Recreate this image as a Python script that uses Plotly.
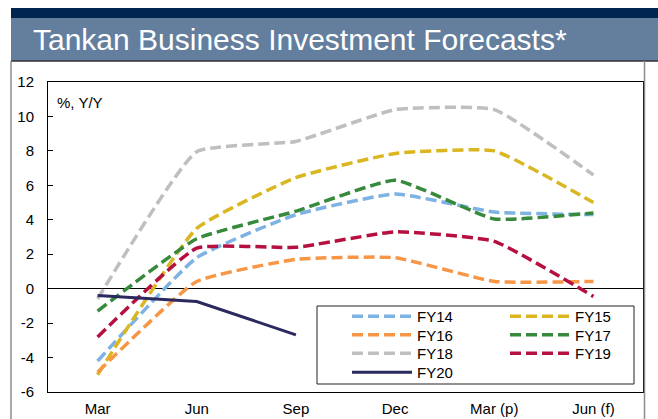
import plotly.graph_objects as go

categories = ["Mar", "Jun", "Sep", "Dec", "Mar (p)", "Jun (f)"]
fy14 = [-4.2, 1.8, 4.3, 5.5, 4.45, 4.3]
fy15 = [-5.0, 3.5, 6.45, 7.85, 8.0, 5.0]
fy16 = [-4.85, 0.42, 1.7, 1.8, 0.42, 0.42]
fy17 = [-1.3, 2.9, 4.5, 6.3, 4.05, 4.4]
fy18 = [-0.6, 7.95, 8.55, 10.4, 10.4, 6.6]
fy19 = [-2.8, 2.35, 2.4, 3.3, 2.75, -0.45]
fy20 = [-0.4, -0.75, -2.68]
ytick_vals = [-6, -4, -2, 0, 2, 4, 6, 8, 10, 12]
ytick_text = ["-6", "-4", "-2", "0", "2", "4", "6", "8", "10", "12"]

# (name, values, colour, legend row)
series = [
    ("FY14", fy14, "#7DB2E2", "legend"),
    ("FY15", fy15, "#DAB620", "legend"),
    ("FY16", fy16, "#F79646", "legend2"),
    ("FY17", fy17, "#378A3B", "legend2"),
    ("FY18", fy18, "#BFBFBF", "legend3"),
    ("FY19", fy19, "#B5103F", "legend3"),
]

W, H = 658, 419
L, R, T, B = 48, 15, 82, 27
PW, PH = W - L - R, H - T - B


def px(x):
    return (x - L) / PW


def py(y):
    return (H - B - y) / PH


FONT = "Liberation Sans, Arial, sans-serif"

fig = go.Figure()
for name, vals, color, lg in series:
    fig.add_trace(go.Scatter(
        x=categories[:len(vals)], y=vals, name=name, mode="lines",
        line=dict(color=color, width=3.5, dash="11px,5px", shape="spline", smoothing=0.4),
        legend=lg,
    ))
fig.add_trace(go.Scatter(
    x=categories[:len(fy20)], y=fy20, name="FY20", mode="lines",
    line=dict(color="#2B295E", width=3), legend="legend4",
))

shapes = [
    dict(type="rect", xref="paper", yref="paper", x0=px(11), x1=px(660), y0=py(18), y1=py(8),
         fillcolor="#00264F", line=dict(width=0), layer="above"),
    dict(type="rect", xref="paper", yref="paper", x0=px(11), x1=px(660), y0=py(61), y1=py(18),
         fillcolor="#647E9E", line=dict(width=0), layer="above"),
    dict(type="line", xref="paper", yref="paper", x0=px(11), x1=px(660), y0=py(61), y1=py(61),
         line=dict(color="#333333", width=1.5), layer="above"),
    dict(type="line", xref="paper", yref="paper", x0=px(11), x1=px(11), y0=py(61), y1=py(425),
         line=dict(color="#8C8C8C", width=1.5), layer="above"),
    dict(type="line", xref="paper", yref="paper", x0=px(644.5), x1=px(644.5), y0=py(61), y1=py(425),
         line=dict(color="#8C8C8C", width=1.5), layer="above"),
    dict(type="rect", xref="paper", yref="paper", x0=px(317), x1=px(634), y0=py(384), y1=py(306),
         fillcolor="white", line=dict(color="#222222", width=1), layer="above"),
]

annotations = [
    dict(text="Tankan Business Investment Forecasts*", xref="paper", yref="paper",
         x=px(31), y=py(40), xanchor="left", yanchor="middle", showarrow=False,
         font=dict(family=FONT, size=30, color="white")),
    dict(text="%, Y/Y", xref="paper", yref="paper", x=px(55), y=py(102),
         xanchor="left", yanchor="middle", showarrow=False,
         font=dict(family=FONT, size=15, color="black")),
]

legend_common = dict(
    orientation="h", xref="paper", yref="paper", yanchor="top", xanchor="left",
    bgcolor="rgba(0,0,0,0)", borderwidth=0, font=dict(family=FONT, size=15, color="black"),
    itemwidth=60, entrywidth=83, entrywidthmode="pixels",
)
row_centers = [317, 335.5, 354, 373]
LEG_X = 347
legends = {}
for i, key in enumerate(["legend", "legend2", "legend3", "legend4"]):
    legends[key] = dict(x=px(LEG_X), y=py(row_centers[i] - 17), **legend_common)

fig.update_layout(
    width=W, height=H,
    margin=dict(l=L, r=R, t=T, b=B, pad=0, autoexpand=False),
    paper_bgcolor="white", plot_bgcolor="white",
    font=dict(family=FONT, size=15, color="black"),
    shapes=shapes, annotations=annotations,
    showlegend=True,
    xaxis=dict(
        type="category", categoryorder="array", categoryarray=categories,
        range=[-0.5, 5.5], showline=True, linecolor="black", linewidth=1, mirror=True,
        ticks="", showgrid=False, zeroline=False, ticklabelstandoff=3,
        tickfont=dict(family=FONT, size=15, color="black"),
    ),
    yaxis=dict(
        range=[-6, 12], tickvals=ytick_vals, ticktext=ytick_text,
        showline=True, linecolor="black", linewidth=1, mirror=True,
        ticks="inside", ticklen=5, tickcolor="black", showgrid=False,
        zeroline=True, zerolinecolor="black", zerolinewidth=1,
        ticklabelstandoff=10, tickfont=dict(family=FONT, size=15, color="black"),
    ),
    **legends,
)

fig.write_html("out.html")
